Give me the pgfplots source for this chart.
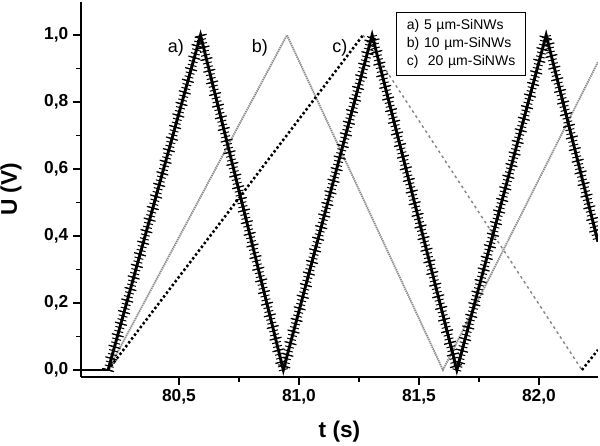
\documentclass[border=0pt]{standalone}
\usepackage{fontspec}
\setmainfont{Liberation Sans}
\usepackage{pgfplots}
\pgfplotsset{compat=1.18}
\usetikzlibrary{decorations.pathreplacing}
\definecolor{bgray}{RGB}{140,140,140}
\definecolor{cgray}{RGB}{135,135,135}
\pgfplotstableread{
x       y
80.205  0
80.59   1
80.935  0
81.305  1
81.658  0
82.03   1
82.246  0.383
}\dataA
\begin{document}
\begin{tikzpicture}
\begin{axis}[
  scale only axis, width=387.75pt, height=281.25pt,
  xmin=80.092, xmax=82.246, ymin=-0.021, ymax=1.099,
  axis lines=left, axis line style={line width=1.5pt,-},
  xtick={80.5,81,81.5,82}, ytick={0,0.2,0.4,0.6,0.8,1},
  minor x tick num=1, minor y tick num=1,
  tick align=outside, major tick length=6pt, minor tick length=3.5pt,
  tick style={black, line width=1.2pt},
  /pgf/number format/.cd, use comma, fixed, fixed zerofill, precision=1, assume math mode=true, /pgfplots/.cd,
  tick label style={font=\bfseries\fontsize{13}{15}\selectfont},
  xlabel={t (s)}, ylabel={U (V)},
  label style={font=\bfseries\fontsize{17}{20}\selectfont},
  xlabel style={at={(axis description cs:0.5,-0.1467)}, anchor=center},
  ylabel style={at={(axis description cs:-0.1354,0.5)}, anchor=center},
]
% b) 10 um-SiNWs
\addplot[color=bgray, line width=1.4pt, dash pattern=on 1pt off 0.6pt]
  coordinates {(80.205,0) (80.95,1) (81.60,0) (82.246,0.92)};
% c) 20 um-SiNWs
\addplot[black, line width=1.9pt, dash pattern=on 1.8pt off 1.8pt]
  coordinates {(80.205,0) (81.267,1)};
\addplot[color=cgray, line width=1.1pt, dash pattern=on 2pt off 2.5pt]
  coordinates {(81.267,1) (82.179,0)};
\addplot[black, line width=1.9pt, dash pattern=on 1.8pt off 1.8pt]
  coordinates {(82.179,0) (82.246,0.06)};
% a) 5 um-SiNWs
\addplot[black, line width=2pt] coordinates {(80.092,0) (80.205,0)};
\addplot[black, line width=2.2pt, line join=miter] table {\dataA};
\addplot[black, line width=0.75pt, decorate, decoration={ticks, segment length=3pt, amplitude=3.4pt}] table {\dataA};
\addplot[black, line width=0.9pt, decorate, decoration={ticks, segment length=9pt, amplitude=4.6pt}] table {\dataA};
\node[font=\fontsize{13.5}{16}\selectfont] at (axis cs:80.4875,0.961) {a)};
\node[font=\fontsize{13.5}{16}\selectfont] at (axis cs:80.8375,0.961) {b)};
\node[font=\fontsize{13.5}{16}\selectfont] at (axis cs:81.171,0.961) {c)};
\node[draw, line width=0.75pt, fill=white, inner xsep=7.5pt, text width=81.75pt, align=left,
  minimum height=47.25pt, font=\fontsize{10.5}{13.5}\selectfont]
  at (axis cs:81.677,0.9746) {a) 5 µm-SiNWs\\ b) 10 µm-SiNWs\\ c)\ \ 20 µm-SiNWs};
\end{axis}
\pgfresetboundingbox
\path (-60.75pt,-51.75pt) rectangle (389.25pt,282.75pt);
\end{tikzpicture}
\end{document}
